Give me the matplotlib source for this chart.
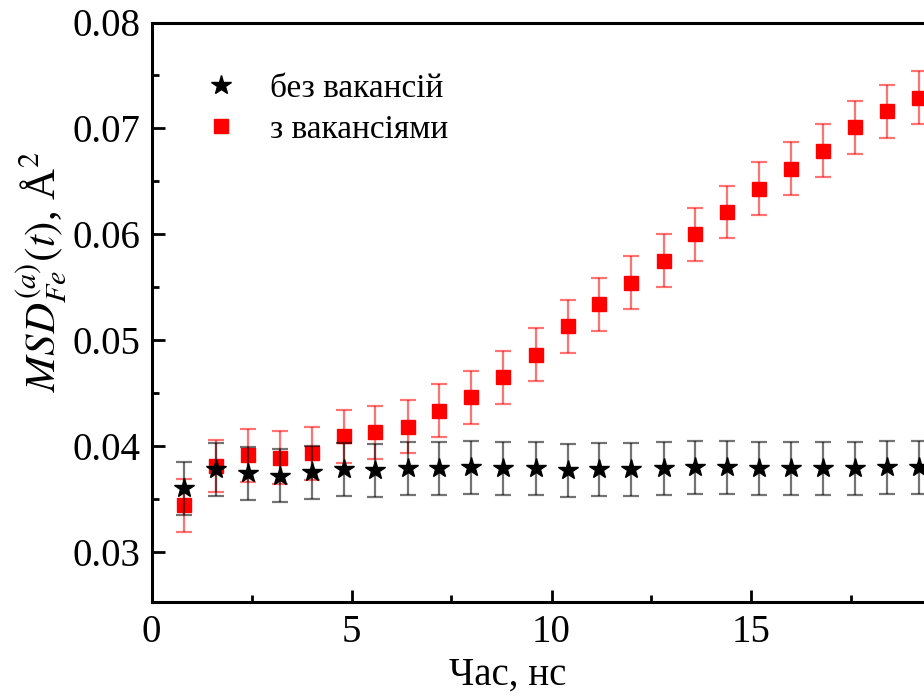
import numpy as np
import matplotlib
matplotlib.use("Agg")
import matplotlib.pyplot as plt
from matplotlib.ticker import MultipleLocator
from matplotlib.lines import Line2D

plt.rcParams['font.family'] = ['Liberation Serif', 'DejaVu Serif']
plt.rcParams['mathtext.fontset'] = 'stix'

# time, ns
time_ns = [0.8, 1.6, 2.4, 3.2, 4.0, 4.8, 5.6, 6.4, 7.2, 8.0, 8.8, 9.6,
           10.4, 11.2, 12.0, 12.8, 13.6, 14.4, 15.2, 16.0, 16.8, 17.6, 18.4, 19.2]

# MSD without vacancies
msd_no_vac = [0.0360, 0.0378, 0.0374, 0.0372, 0.0375, 0.0378, 0.0377, 0.0379,
              0.0379, 0.0380, 0.0379, 0.0379, 0.0377, 0.0378, 0.0378, 0.0379,
              0.0380, 0.0380, 0.0379, 0.0379, 0.0379, 0.0379, 0.0380, 0.0380]
err_no_vac = [0.0025] * 24

# MSD with vacancies
msd_vac = [0.0344, 0.0381, 0.0391, 0.0389, 0.0393, 0.0409, 0.0413, 0.0418,
           0.0433, 0.0446, 0.0465, 0.0486, 0.0513, 0.0534, 0.0554, 0.0575,
           0.0600, 0.0621, 0.0643, 0.0662, 0.0679, 0.0701, 0.0716, 0.0729]
err_vac = [0.0025] * 24

label_no_vac = "без вакансій"
label_vac = "з вакансіями"
xlabel = "Час, нс"
ylabel = r"$MSD^{(a)}_{Fe}(t)$, Å$^2$"

fig = plt.figure(figsize=(9.24, 6.97), dpi=100)
W, H = 924, 697
left_px, right_px = 151.5, 931.5
top_px, bottom_px = 22.5, 602
ax = fig.add_axes([left_px / W, 1 - bottom_px / H,
                   (right_px - left_px) / W, (bottom_px - top_px) / H])

ax.errorbar(time_ns, msd_no_vac, yerr=err_no_vac, fmt='*', color='black',
            markersize=15, ecolor=(0, 0, 0, 0.55), elinewidth=1.6,
            capsize=6, capthick=1.6, zorder=3)
ax.errorbar(time_ns, msd_vac, yerr=err_vac, fmt='s', color='#ff0000',
            markersize=10, ecolor=(1, 0, 0, 0.55), elinewidth=1.6,
            capsize=6, capthick=1.6, zorder=2)

ax.set_xlim(0, 19.5)
ax.set_ylim(0.02525, 0.08)
ax.xaxis.set_major_locator(MultipleLocator(5))
ax.xaxis.set_minor_locator(MultipleLocator(2.5))
ax.yaxis.set_minor_locator(MultipleLocator(0.005))
ax.set_yticks([0.03, 0.04, 0.05, 0.06, 0.07, 0.08])
ax.set_yticklabels(["0.03", "0.04", "0.05", "0.06", "0.07", "0.08"])

ax.tick_params(which='both', direction='in', width=2, labelsize=28)
ax.tick_params(which='major', length=9)
ax.tick_params(which='minor', length=5)
ax.tick_params(axis='x', pad=9)
ax.tick_params(axis='y', pad=8)
for s in ax.spines.values():
    s.set_linewidth(2.2)

ax.set_xlabel(xlabel, fontsize=28)
ax.xaxis.set_label_coords(0.457, -0.095)
ax.set_ylabel(ylabel, fontsize=31)
ax.yaxis.set_label_coords(-0.106, 0.57)

handles = [
    Line2D([], [], linestyle='none', marker='*', markersize=15, color='black'),
    Line2D([], [], linestyle='none', marker='s', markersize=10, color='#ff0000'),
]
ax.legend(handles, [label_no_vac, label_vac], loc='upper left',
          bbox_to_anchor=(0.05, 0.935), frameon=False,
          fontsize=24, handletextpad=1.0, labelspacing=0.3,
          handlelength=1.0, borderaxespad=0)

fig.savefig("out.png", dpi=100)
